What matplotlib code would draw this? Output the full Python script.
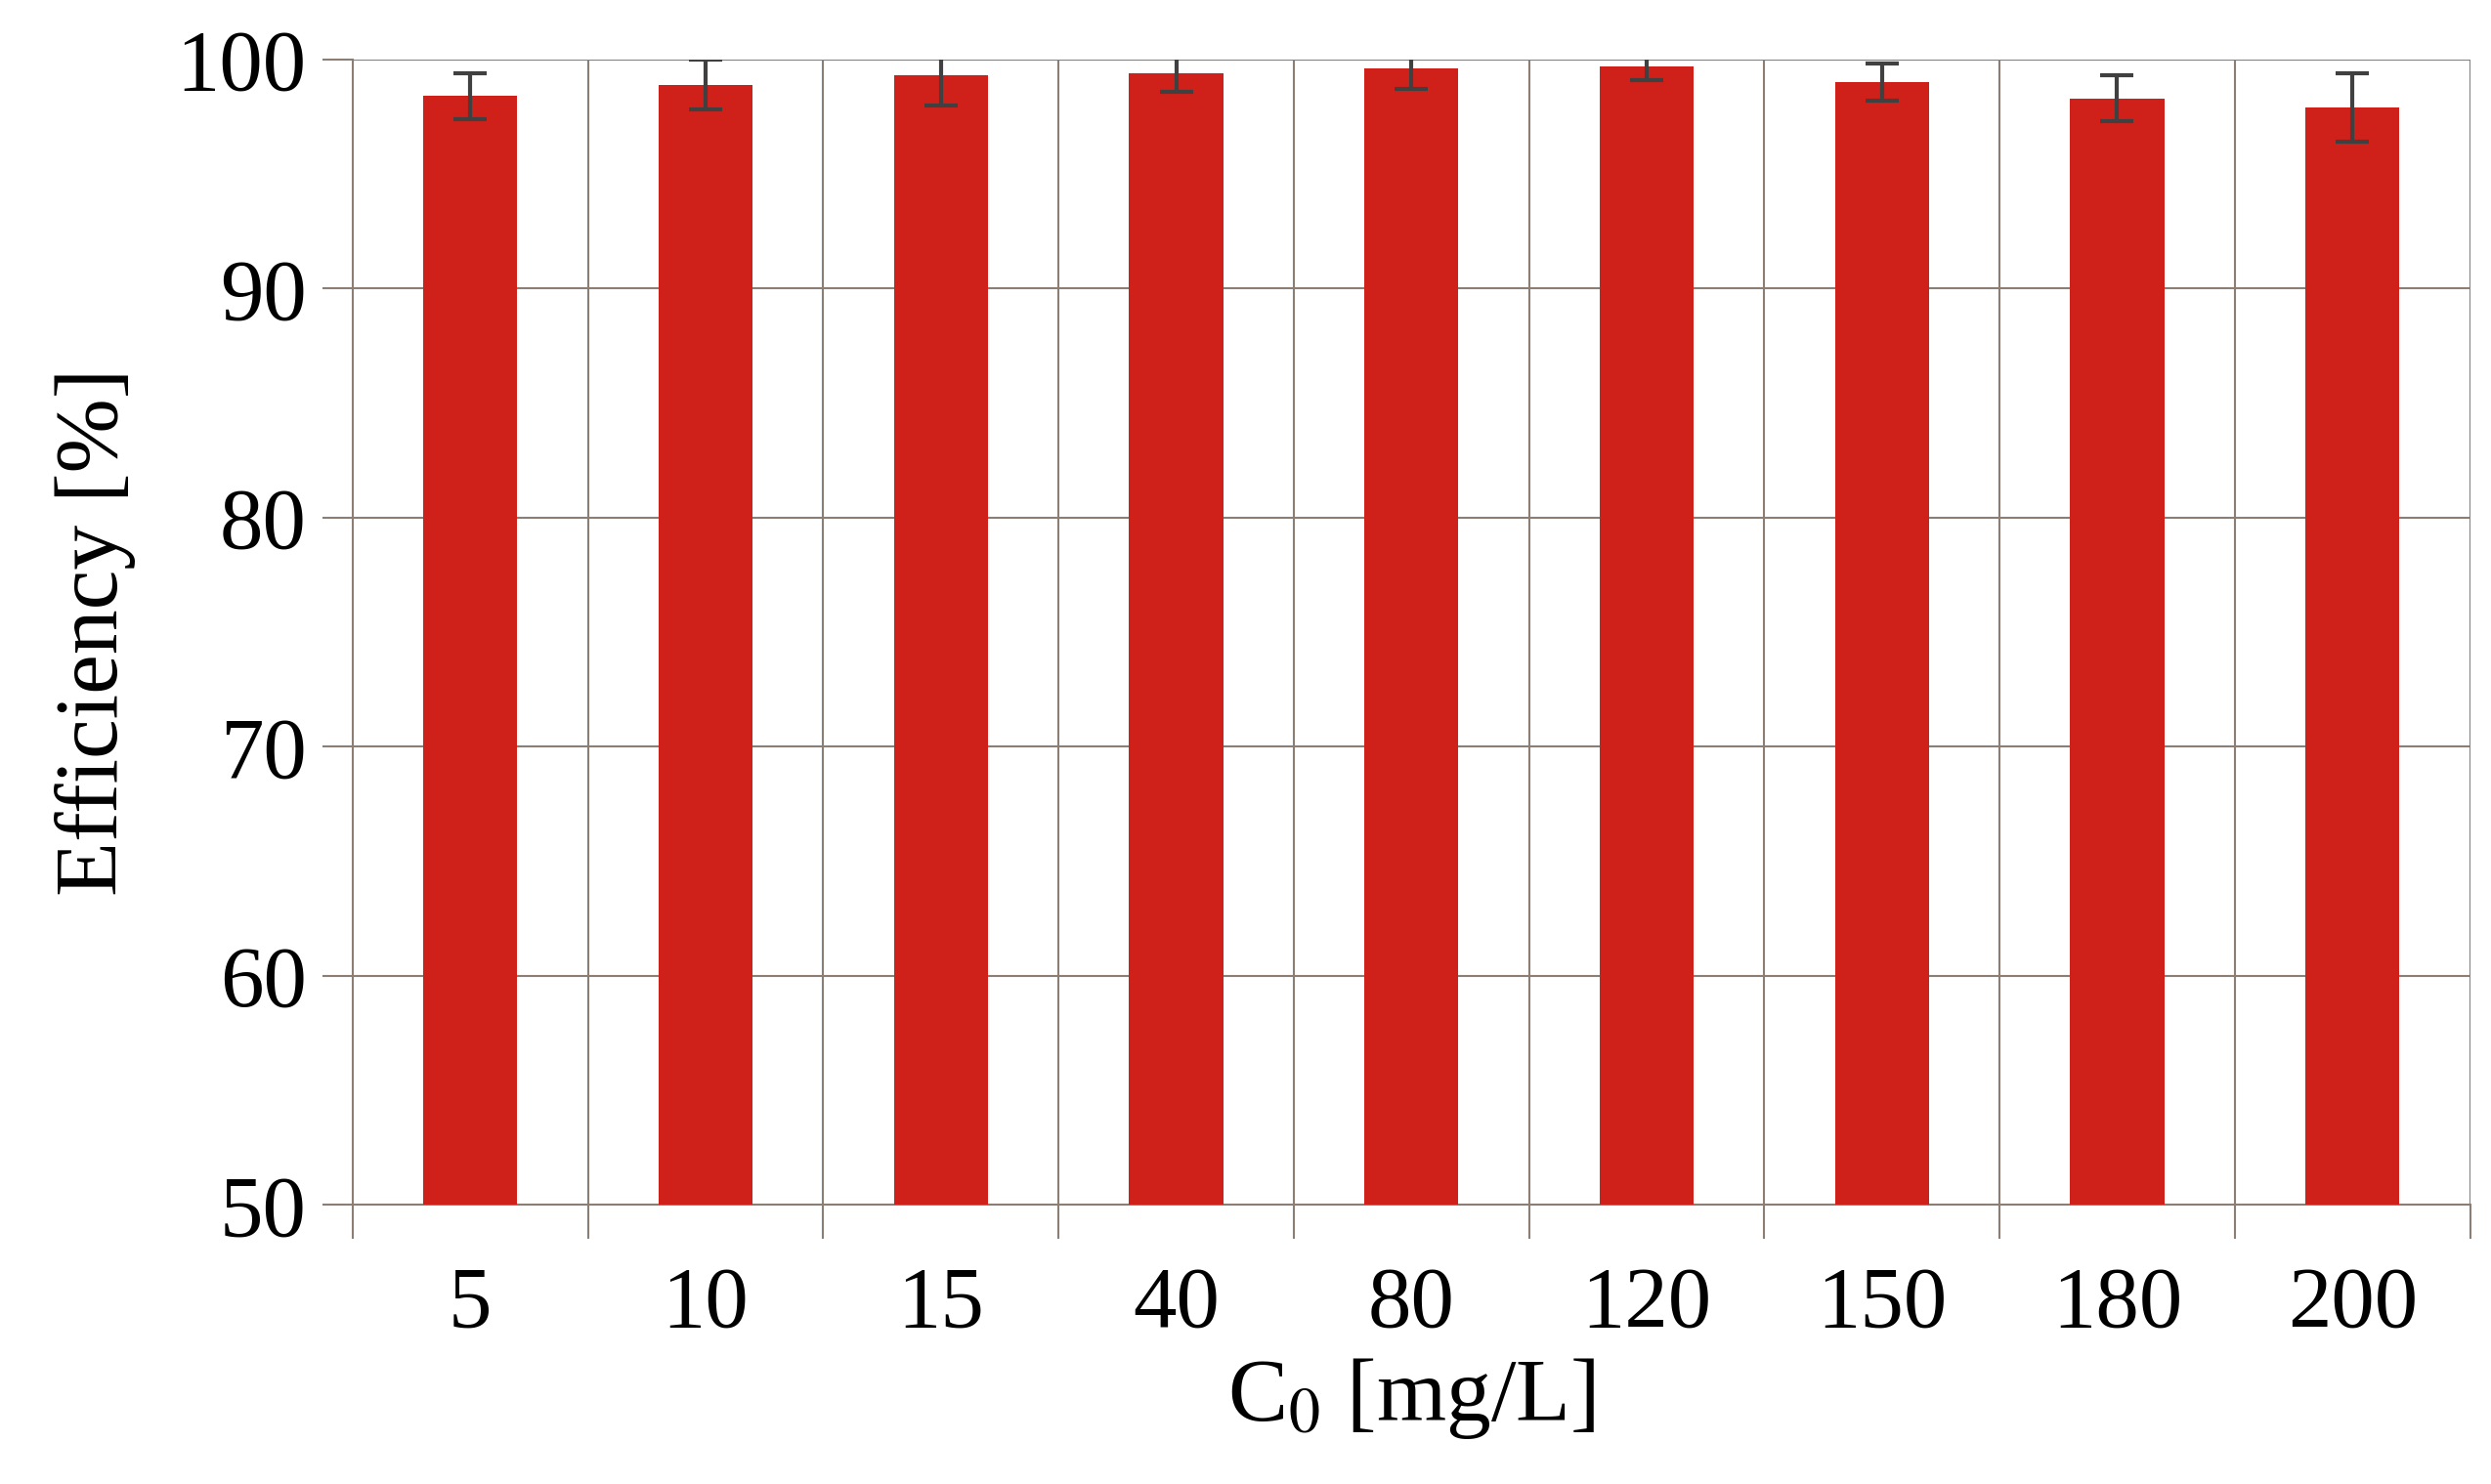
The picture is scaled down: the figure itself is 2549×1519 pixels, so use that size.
import matplotlib.pyplot as plt
import numpy as np

# 데이터
concentrations = ['5', '10', '15', '40', '80', '120', '150', '180', '200']
efficiency = [98.4, 98.9, 99.3, 99.4, 99.6, 99.7, 99.0, 98.3, 97.9]
errors = [1.0, 1.1, 1.3, 0.8, 0.9, 0.6, 0.8, 1.0, 1.5]

plt.rcParams['font.family'] = ['Liberation Serif', 'DejaVu Serif']
plt.rcParams['mathtext.fontset'] = 'stix'

grid_color = '#8b7e74'
fig = plt.figure(figsize=(25.49, 15.19), dpi=100)
ax = fig.add_axes([0.1416, 0.188, 0.85, 0.772])

x = np.arange(len(concentrations))
ax.bar(x, [e - 50 for e in efficiency], bottom=50, width=0.4, color='#d0201a',
       yerr=errors, error_kw=dict(ecolor='#404040', elinewidth=3, capsize=12, capthick=3),
       zorder=3)

ax.set_xlim(-0.5, len(x) - 0.5)
ax.set_ylim(50, 100)
ax.set_yticks([50, 60, 70, 80, 90, 100])
for y in [60, 70, 80, 90, 100]:
    ax.axhline(y, color=grid_color, lw=1.5, zorder=1)
for b in np.arange(0.5, len(x) - 0.5, 1):
    ax.axvline(b, color=grid_color, lw=1.5, zorder=1)
ax.axvline(len(x) - 0.5, color=grid_color, lw=1.5, zorder=1)

ax.set_xticks(x)
ax.set_xticklabels(concentrations)
ax.set_xticks(np.arange(-0.5, len(x), 1), minor=True)
ax.tick_params(axis='x', which='major', length=0, pad=45, labelsize=64)
ax.tick_params(axis='x', which='minor', length=25, width=1.5, color=grid_color)
ax.tick_params(axis='y', length=22, width=1.5, color=grid_color, labelsize=64, pad=12)

for s in ['top', 'right']:
    ax.spines[s].set_visible(False)
for s in ['left', 'bottom']:
    ax.spines[s].set_color(grid_color)
    ax.spines[s].set_linewidth(1.5)

ax.set_ylabel('Efficiency [%]', fontsize=66, labelpad=30)
ax.set_xlabel(r'C$_0$ [mg/L]', fontsize=66, labelpad=8)

plt.savefig('out.png', dpi=100)
